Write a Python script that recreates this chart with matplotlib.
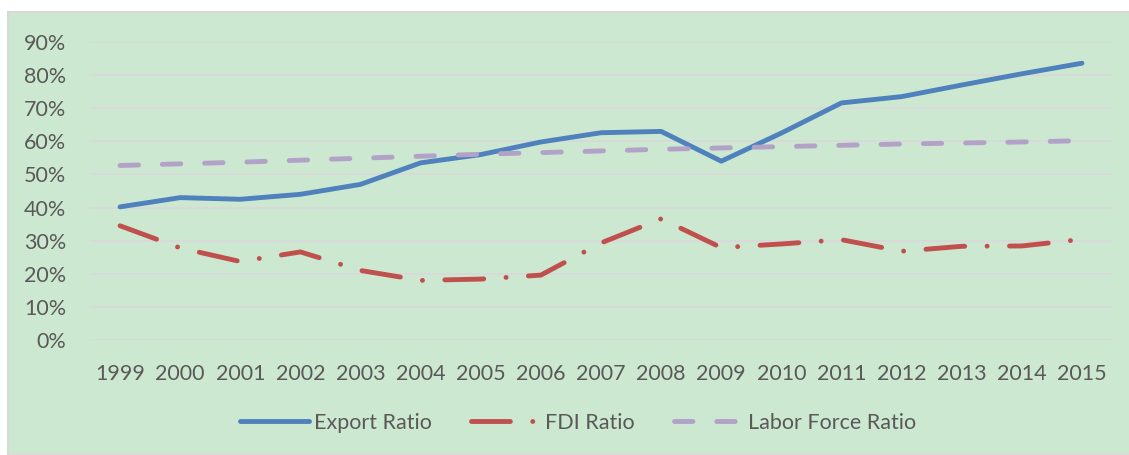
import numpy as np
import matplotlib
matplotlib.use('Agg')
import matplotlib.pyplot as plt
from matplotlib.patches import Rectangle
from matplotlib.lines import Line2D
from matplotlib.ticker import PercentFormatter

# values (fractions)
years = [str(y) for y in range(1999, 2016)]
export_ratio = [0.402, 0.430, 0.425, 0.440, 0.470, 0.535, 0.560, 0.598, 0.626, 0.630, 0.540,
                0.625, 0.716, 0.735, 0.770, 0.804, 0.836]
fdi_ratio = [0.345, 0.278, 0.237, 0.266, 0.210, 0.180, 0.184, 0.196, 0.293, 0.366, 0.279,
             0.290, 0.303, 0.268, 0.283, 0.284, 0.304]
labor_ratio = [0.527, 0.532, 0.537, 0.543, 0.549, 0.555, 0.561, 0.566, 0.571, 0.576, 0.580,
               0.584, 0.588, 0.592, 0.595, 0.598, 0.602]

bg = '#CDE8D0'
txt = '#595959'
blue, red, purple = '#4F81BD', '#C0504D', '#B3A2C7'
lw = 3.5
fdi_dash = (8, 4.6, 0.01, 4.6)
lab_dash = (3.8, 4.9)
plt.rcParams['font.family'] = ['Lato', 'DejaVu Sans']

fig = plt.figure(figsize=(11.29, 4.55), dpi=100)
fig.patch.set_facecolor('white')
# green chart area with light grey border
fig.patches.append(Rectangle((8 / 1129, 0), 1.0, 1 - 12 / 455, transform=fig.transFigure,
                             facecolor=bg, edgecolor='#D9D9D9', lw=1.5, zorder=-5))

ax = fig.add_axes([90 / 1129, 1 - 340 / 455, (1112 - 90) / 1129, (340 - 42) / 455])
ax.set_facecolor('none')
x = np.arange(len(years))

ax.plot(x, export_ratio, color=blue, lw=lw, solid_capstyle='round', zorder=3)
fdi, = ax.plot(x, fdi_ratio, color=red, lw=lw, dash_capstyle='round', zorder=3)
fdi.set_dashes(fdi_dash)
lab, = ax.plot(x, labor_ratio, color=purple, lw=lw, dash_capstyle='round', zorder=3)
lab.set_dashes(lab_dash)

ax.set_xlim(-0.5, len(years) - 0.5)
ax.set_ylim(0, 0.9)
ax.set_yticks(np.arange(0, 0.91, 0.1))
ax.yaxis.set_major_formatter(PercentFormatter(1.0, decimals=0))
ax.set_xticks(x)
ax.set_xticklabels(years)
ax.grid(axis='y', color='#D9D9D9', lw=1.3, zorder=1)
ax.set_axisbelow(True)
for s in ax.spines.values():
    s.set_visible(False)
ax.tick_params(axis='both', length=0, labelsize=15.5, colors=txt)
ax.tick_params(axis='y', pad=17)
ax.tick_params(axis='x', pad=17)

h_exp = Line2D([], [], color=blue, lw=lw, solid_capstyle='round')
h_fdi = Line2D([], [], color=red, lw=lw, dash_capstyle='round', dashes=fdi_dash)
h_lab = Line2D([], [], color=purple, lw=lw, dash_capstyle='round', dashes=lab_dash)
leg = fig.legend([h_exp, h_fdi, h_lab], ['Export Ratio', 'FDI Ratio', 'Labor Force Ratio'],
                 loc='center', bbox_to_anchor=(578 / 1129, 1 - 423 / 455), ncol=3,
                 frameon=False, fontsize=15.5, handlelength=3.2, handletextpad=0.25,
                 columnspacing=1.8)
for t in leg.get_texts():
    t.set_color(txt)

fig.savefig('out.png', dpi=100, facecolor=fig.get_facecolor())
